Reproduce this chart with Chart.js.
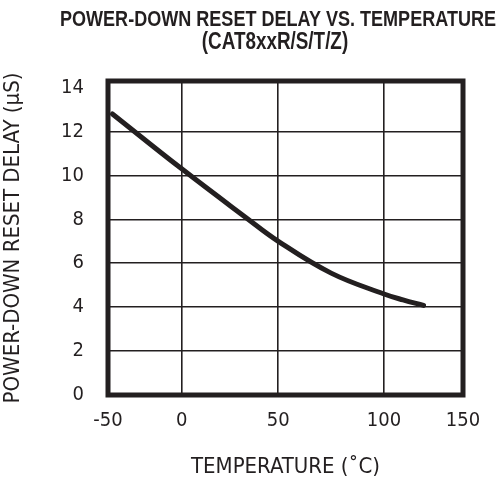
<!DOCTYPE html>
<html>
<head>
<meta charset="utf-8">
<script src="https://cdn.jsdelivr.net/npm/chart.js@4.4.1/dist/chart.umd.min.js"></script>
<style>
  html, body { margin: 0; padding: 0; background: #fff; }
  #wrap { width: 500px; height: 483px; }
</style>
</head>
<body>
<div id="wrap"><canvas id="delayChart"></canvas></div>
<script>
const titleLines = ["POWER-DOWN RESET DELAY VS. TEMPERATURE", "(CAT8xxR/S/T/Z)"];
const xTitle = "TEMPERATURE (˚C)";
const yTitle = "POWER-DOWN RESET DELAY (µS)";

const temperature = [-47, 0, 33, 50, 75, 100, 112, 125];
const resetDelay = [12.8, 10.3, 8.1, 7.0, 5.55, 4.6, 4.33, 4.08];

const xTicks = [-50, 0, 50, 100, 150];
const yTicks = [0, 2, 4, 6, 8, 10, 12, 14];

// the printed grid is not evenly spaced: where each x tick sits across the plot (0..1)
const xTickFractions = [0, 0.2076, 0.4797, 0.7775, 1];

const ink = "#231f20";
const family = "'DejaVu Sans Condensed', 'Liberation Sans', sans-serif";

function warp(v) {
  for (let i = 1; i < xTicks.length; i++) {
    if (v <= xTicks[i] || i === xTicks.length - 1) {
      const t = (v - xTicks[i - 1]) / (xTicks[i] - xTicks[i - 1]);
      return xTickFractions[i - 1] + t * (xTickFractions[i] - xTickFractions[i - 1]);
    }
  }
}

function unwarp(d) {
  for (let i = 1; i < xTickFractions.length; i++) {
    if (d <= xTickFractions[i] || i === xTickFractions.length - 1) {
      const t = (d - xTickFractions[i - 1]) / (xTickFractions[i] - xTickFractions[i - 1]);
      return xTicks[i - 1] + t * (xTicks[i] - xTicks[i - 1]);
    }
  }
}

// linear scale that follows the uneven hand-drawn grid
class WarpedScale extends Chart.LinearScale {
  static id = "warped";
  getPixelForValue(value) {
    if (value === null || value === undefined) return NaN;
    return this.getPixelForDecimal(warp(value));
  }
  getValueForPixel(pixel) {
    return unwarp(this.getDecimalForPixel(pixel));
  }
}
Chart.register(WarpedScale);

const framePlugin = {
  id: "frame",
  afterDatasetsDraw(chart) {
    const { ctx, chartArea: a } = chart;
    ctx.save();
    ctx.strokeStyle = ink;
    ctx.lineWidth = 5;
    ctx.strokeRect(a.left, a.top, a.right - a.left, a.bottom - a.top);
    ctx.restore();
  }
};

// condensed bold heading (no condensed bold face installed, so squeeze Liberation Sans)
const headlinePlugin = {
  id: "headline",
  afterDraw(chart) {
    const ctx = chart.ctx;
    const squeeze = 0.82;
    ctx.save();
    ctx.fillStyle = ink;
    ctx.font = "bold 22px 'Liberation Sans', Arial, sans-serif";
    ctx.textAlign = "center";
    ctx.textBaseline = "middle";
    ctx.scale(squeeze, 1);
    ctx.fillText(titleLines[0], 278 / squeeze, 20);
    ctx.font = "bold 23px 'Liberation Sans', Arial, sans-serif";
    ctx.fillText(titleLines[1], 275 / squeeze, 43);
    ctx.restore();
  }
};

new Chart(document.getElementById("delayChart"), {
  type: "line",
  data: {
    datasets: [{
      data: temperature.map((t, i) => ({ x: t, y: resetDelay[i] })),
      borderColor: ink,
      borderWidth: 5,
      borderCapStyle: "round",
      borderJoinStyle: "round",
      pointRadius: 0,
      tension: 0.4,
      fill: false
    }]
  },
  options: {
    responsive: true,
    maintainAspectRatio: false,
    animation: false,
    layout: { padding: { top: 81, right: 37, left: 0, bottom: 0 } },
    plugins: {
      legend: { display: false },
      tooltip: { enabled: false },
      title: { display: false }
    },
    scales: {
      x: {
        type: "warped",
        min: -50,
        max: 150,
        afterBuildTicks: s => { s.ticks = xTicks.map(v => ({ value: v })); },
        afterFit: s => { s.height = 88; },
        grid: { color: ink, lineWidth: 1.6, drawTicks: false },
        border: { display: false },
        ticks: {
          padding: 14,
          color: ink,
          font: { family: family, size: 20 },
          maxRotation: 0,
          autoSkip: false
        },
        title: {
          display: true,
          text: xTitle,
          color: ink,
          font: { family: family, size: 22 },
          padding: { top: 0, bottom: 3 }
        }
      },
      y: {
        type: "linear",
        min: 0,
        max: 14.3,
        afterBuildTicks: s => { s.ticks = yTicks.map(v => ({ value: v })); },
        afterFit: s => { s.width = 108; },
        grid: {
          color: c => (c.tick && c.tick.value === 14 ? "rgba(0,0,0,0)" : ink),
          lineWidth: 1.6,
          drawTicks: false
        },
        border: { display: false },
        ticks: {
          padding: 24,
          color: ink,
          font: { family: family, size: 20 },
          autoSkip: false
        },
        title: {
          display: true,
          text: yTitle,
          color: ink,
          font: { family: family, size: 22 },
          padding: { top: 0, bottom: 0 }
        }
      }
    }
  },
  plugins: [framePlugin, headlinePlugin]
});
</script>
</body>
</html>
